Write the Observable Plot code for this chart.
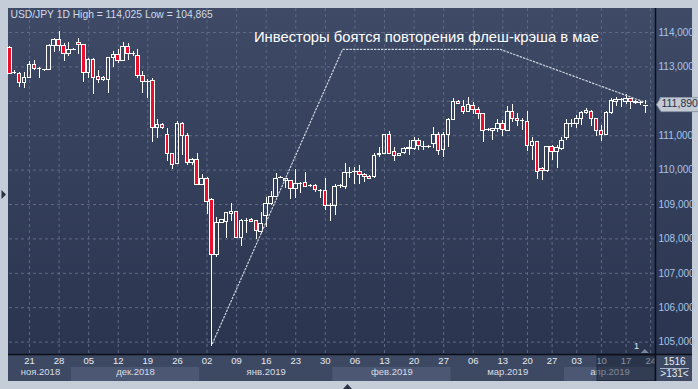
<!DOCTYPE html>
<html><head><meta charset="utf-8">
<script src="https://cdn.jsdelivr.net/npm/d3@7"></script>
<script src="https://cdn.jsdelivr.net/npm/@observablehq/plot@0.6"></script>
<style>
html,body{margin:0;padding:0;background:#c5cdd9;}
#wrap{position:relative;width:698px;height:389px;overflow:hidden;background:#c5cdd9;}
#wrap svg{position:absolute;left:0;top:0;}
</style></head><body><div id="wrap"></div>
<script>
// ---- data (bar index = trading bar, incl. Sunday bars before DST) ----
const opens = [113.55,112.83,112.80,112.54,112.67,113.06,112.93,112.94,112.91,113.62,
113.77,113.60,113.38,113.51,113.70,113.64,112.83,113.21,112.71,112.62,
112.62,113.26,113.35,113.17,113.59,113.38,113.33,112.74,112.58,112.60,
111.23,111.32,111.03,110.47,110.18,111.34,111.00,110.20,110.30,109.58,
109.75,109.12,107.54,108.47,108.49,108.73,108.78,108.03,108.53,108.55,
108.53,108.20,108.68,109.02,109.21,109.77,109.68,109.68,109.44,109.60,
109.63,109.55,109.55,109.40,109.38,108.95,108.95,109.53,109.50,109.93,
109.93,109.95,109.87,109.81,109.79,110.43,110.47,111.01,110.54,110.40,
110.49,110.60,110.60,110.86,110.69,110.68,110.76,111.03,110.59,111.01,
111.47,111.99,111.83,111.70,111.87,111.76,111.64,111.17,111.15,111.20,
111.35,111.15,111.70,111.49,111.43,111.41,110.70,110.83,110.03,109.97,
110.67,110.52,110.62,110.94,111.34,111.34,111.49,111.66,111.70,111.49,
111.15,111.01,111.66,111.99,112.04,111.99,112.07,111.99,111.95,111.91];
const highs = [113.60,112.89,112.85,112.83,113.16,113.20,112.99,112.96,113.64,113.82,
114.03,113.67,113.70,113.53,113.82,113.64,113.23,113.23,112.91,112.72,
113.26,113.45,113.51,113.71,113.67,113.46,113.52,112.87,112.62,112.65,
111.46,111.35,111.20,110.49,111.41,111.37,111.05,110.33,110.47,109.87,
109.79,109.17,108.61,108.56,108.78,109.02,108.78,108.55,108.60,108.58,
108.53,108.78,109.21,109.39,109.89,109.80,109.77,109.70,110.01,109.65,
109.94,109.58,109.58,109.44,109.75,109.02,109.57,109.57,110.18,110.08,
110.08,110.13,109.89,109.84,110.47,110.65,111.03,111.12,110.66,110.49,
110.67,110.86,110.96,110.91,110.83,110.71,111.25,111.08,111.10,111.49,
112.07,112.02,112.02,112.12,111.97,111.83,111.64,111.20,111.22,111.46,
111.44,111.86,111.90,111.64,111.49,111.70,110.96,110.83,110.08,110.70,
110.72,110.72,110.96,111.46,111.46,111.59,111.70,111.80,111.73,111.51,
111.30,111.70,112.09,112.10,112.07,112.19,112.09,112.02,112.00,112.01];
const lows = [112.78,112.78,112.41,112.36,112.65,112.90,112.65,112.88,112.90,113.43,
113.45,113.17,113.31,113.47,113.35,112.56,112.65,112.20,112.51,112.59,
112.24,112.99,113.09,113.17,113.20,113.30,112.67,112.24,112.07,110.81,
110.93,111.18,110.26,110.01,110.15,110.42,110.13,110.13,109.55,109.55,
108.71,104.87,107.47,108.44,108.00,108.51,108.00,107.79,108.17,108.49,
107.97,108.15,108.34,108.97,109.21,109.75,109.48,109.15,109.17,109.31,
109.50,109.50,109.36,109.18,108.83,108.51,108.68,109.48,109.43,109.76,
109.57,109.57,109.65,109.72,109.77,110.36,110.44,110.45,110.26,110.39,
110.44,110.42,110.57,110.57,110.57,110.64,110.62,110.42,110.36,110.67,
111.44,111.91,111.61,111.68,111.61,111.46,110.79,111.13,110.86,111.10,
110.99,111.13,111.37,111.28,111.15,110.55,110.28,109.73,109.70,109.94,
110.28,110.04,110.57,110.86,111.25,111.22,111.30,111.61,111.28,110.99,
110.83,111.01,111.61,111.86,111.83,111.91,111.76,111.90,111.88,111.65];
const closes = [112.80,112.85,112.54,112.68,113.06,112.94,112.94,112.93,113.62,113.77,
113.62,113.38,113.50,113.52,113.64,112.83,113.20,112.68,112.62,112.69,
113.26,113.36,113.17,113.59,113.38,113.39,112.73,112.56,112.59,111.22,
111.32,111.22,110.47,110.15,111.34,110.98,110.20,110.28,109.58,109.75,
109.07,107.54,108.47,108.54,108.75,108.78,108.03,108.53,108.54,108.49,
108.22,108.44,109.02,109.21,109.75,109.78,109.75,109.44,109.60,109.61,
109.52,109.56,109.41,109.41,108.95,108.96,109.50,109.54,109.92,109.94,
109.95,109.86,109.80,109.75,110.42,110.47,111.01,110.47,110.40,110.47,
110.60,110.64,110.86,110.69,110.70,110.69,111.03,110.57,111.01,111.47,
111.99,111.91,111.70,111.88,111.75,111.64,111.15,111.18,111.20,111.35,
111.17,111.70,111.49,111.42,111.44,110.70,110.83,109.94,109.97,110.67,
110.52,110.64,110.86,111.34,111.35,111.49,111.66,111.73,111.49,111.13,
111.01,111.66,112.02,112.05,112.05,112.07,111.99,111.94,111.96,111.89];

const weekTickIdx = [4,10,16,22,28,34,40,46,52,58,64,70,76,82,88,94,100,105,110,115,120,125,130];
const weekTickLabels = ["21","28","05","12","19","26","02","09","16","23","30","06","13","20","27","06","13","20","27","03","10","17","24"];
const monthNames = ["ноя.2018","дек.2018","янв.2019","фев.2019","мар.2019","апр.2019"];
const monthBreaks = [12.5, 38.5, 65.5, 89.5, 112.5];
const priceTicks = [105,106,107,108,109,110,111,112,113,114];

const headerText = "USD/JPY 1D High = 114,025 Low = 104,865";
const annotText = "Инвесторы боятся повторения флеш-крэша в мае";
const annotTextIdx = 84.5, annotTextPrice = 113.87;
const annotIdx = [41.1, 67.5, 99.5, 128.5];
const annotPrice = [104.96, 113.51, 113.51, 111.99];
const lastPrice = 111.890;
const cornerTop = "1516", cornerBottom = ">131<";

// ---- build ----
const FONT = "'Liberation Sans', Arial, sans-serif";
const W = 698, H = 389, mL = 9, mR = 43, mT = 8, mB = 35;
const xDomain = [-0.06, 130.97];
const yDomain = [104.64, 114.698];
const red = "#e8102c";
const hw = 0.36;

const bars = opens.map((o, i) => ({i, o, h: highs[i], l: lows[i], c: closes[i],
  top: Math.max(o, closes[i]), bot: Math.min(o, closes[i])}));
const isDoji = d => d.top - d.bot < 0.025;
const redBodies = bars.filter(d => !isDoji(d) && d.c < d.o);
const whiteBodies = bars.filter(d => !isDoji(d) && d.c >= d.o);
const dojis = bars.filter(isDoji);
const annotPts = annotIdx.map((i, k) => ({i, v: annotPrice[k]}));
const tickLabel = new Map(weekTickIdx.map((d, k) => [d, weekTickLabels[k]]));
const bounds = [xDomain[0], ...monthBreaks, xDomain[1]];
const months = monthNames.map((name, k) => ({name, x1: bounds[k], x2: bounds[k + 1], mid: (bounds[k] + bounds[k + 1]) / 2, light: k % 2 === 1}));
const fmt = d => d.toFixed(3).replace(".", ",");

const plot = Plot.plot({
  width: W, height: H, marginLeft: mL, marginRight: mR, marginTop: mT, marginBottom: mB,
  x: {type: "linear", domain: xDomain, axis: null},
  y: {type: "linear", domain: yDomain, axis: null},
  style: {background: "transparent", overflow: "visible", fontFamily: FONT, fontSize: "10px"},
  marks: [
    Plot.gridY(priceTicks, {stroke: "#5d6985", strokeOpacity: 1, strokeDasharray: "3,3"}),
    Plot.gridX(weekTickIdx, {stroke: "#5d6985", strokeOpacity: 1, strokeDasharray: "3,3"}),
    Plot.ruleX(bars, {x: "i", y1: "h", y2: "top", stroke: "white", strokeWidth: 1}),
    Plot.ruleX(bars, {x: "i", y1: "bot", y2: "l", stroke: "white", strokeWidth: 1}),
    Plot.rect(redBodies, {x1: d => d.i - hw, x2: d => d.i + hw, y1: "o", y2: "c", fill: red, stroke: "white", strokeWidth: 1}),
    Plot.rect(whiteBodies, {x1: d => d.i - hw, x2: d => d.i + hw, y1: "o", y2: "c", fill: "none", stroke: "white", strokeWidth: 1}),
    Plot.ruleY(dojis, {y: "c", x1: d => d.i - hw - 0.1, x2: d => d.i + hw + 0.1, stroke: "white", strokeWidth: 1}),
    Plot.line(annotPts, {x: "i", y: "v", stroke: "#cfd4dc", strokeWidth: 1.2, strokeDasharray: "1.5,2"}),
    Plot.text([annotText], {x: annotTextIdx, y: annotTextPrice, text: d => d, fill: "white", fontSize: 14.8, fontFamily: FONT}),
    Plot.text([headerText], {frameAnchor: "top-left", text: d => d, dx: 1, dy: 2, textAnchor: "start", lineAnchor: "top", fill: "#d2dae8", fontSize: 10.3, fontFamily: FONT}),
    Plot.axisY(priceTicks, {anchor: "right", tickSize: 0, tickPadding: 3, tickFormat: fmt, color: "#a9c3e6", fontSize: 10}),
    Plot.axisX(weekTickIdx, {anchor: "bottom", tickSize: 0, tickPadding: 3, tickFormat: d => tickLabel.get(d), color: "#e4e9f0", fontSize: 9.5}),
    Plot.text(months, {x: "mid", text: "name", frameAnchor: "bottom", dy: 20.5, fill: "#d6dce6", fontSize: 9.5, fontFamily: FONT})
  ]
});

const xs = plot.scale("x"), ys = plot.scale("y");
const svg = d3.select(plot);
svg.selectAll("g[aria-label='rule'] line, g[aria-label='rect'] rect").attr("shape-rendering", "crispEdges");
const px = v => xs.apply(v), py = v => ys.apply(v);
const fx0 = mL - 1, fx1 = W - mR, fy0 = mT, fy1 = H - mB, rightEdge = W - 6, botEdge = H - 8;

// backgrounds inserted beneath the marks
const defs = svg.insert("defs", ":first-child");
const g1 = defs.append("linearGradient").attr("id", "bgGrad").attr("x1", 0).attr("x2", 0).attr("y1", 0).attr("y2", 1);
g1.append("stop").attr("offset", "0%").attr("stop-color", "#3e4a66");
g1.append("stop").attr("offset", "100%").attr("stop-color", "#2a344f");
const bg = svg.insert("g", "defs + *");
bg.append("rect").attr("x", fx0).attr("y", fy0).attr("width", rightEdge - fx0).attr("height", fy1 - fy0).attr("fill", "url(#bgGrad)");
bg.append("rect").attr("x", fx0).attr("y", fy1).attr("width", rightEdge - fx0).attr("height", botEdge - fy1).attr("fill", "#3d4963");
months.forEach(m => {
  if (m.light) bg.append("rect").attr("x", px(m.x1)).attr("y", fy1 + 13).attr("width", px(m.x2) - px(m.x1)).attr("height", botEdge - fy1 - 13).attr("fill", "#4c5873");
});

// overlays
const ov = svg.append("g").attr("text-anchor", "start").attr("font-family", FONT);
ov.append("rect").attr("x", 597).attr("y", fy1 + 1.5).attr("width", fx1 - 597).attr("height", botEdge - fy1 - 2).attr("fill", "rgba(20,28,46,0.45)").attr("stroke", "#222a3d");
ov.append("line").attr("x1", fx0).attr("x2", rightEdge).attr("y1", fy1 + 0.5).attr("y2", fy1 + 0.5).attr("stroke", "#0b0f18").attr("stroke-width", 1.5);
ov.append("line").attr("x1", fx1 + 0.5).attr("x2", fx1 + 0.5).attr("y1", fy0).attr("y2", botEdge).attr("stroke", "#0b0f18").attr("stroke-width", 1.5);
ov.append("text").attr("x", (fx1 + rightEdge) / 2 + 1).attr("y", fy1 + 8).attr("text-anchor", "middle").attr("dominant-baseline", "middle").attr("fill", "#e4e9f0").attr("font-size", 10).text(cornerTop);
ov.append("line").attr("x1", fx1 + 5).attr("x2", rightEdge - 3).attr("y1", fy1 + 14.5).attr("y2", fy1 + 14.5).attr("stroke", "#aab4c4");
ov.append("text").attr("x", (fx1 + rightEdge) / 2 + 1).attr("y", fy1 + 20.5).attr("text-anchor", "middle").attr("dominant-baseline", "middle").attr("fill", "#e4e9f0").attr("font-size", 10).text(cornerBottom);
// last price label
const ly = py(lastPrice);
ov.append("path").attr("d", `M${fx1 + 1.5},${ly} L${fx1 + 6},${ly - 7} L${W + 2},${ly - 7} L${W + 2},${ly + 7} L${fx1 + 6},${ly + 7} Z`).attr("fill", "#c3cad3").attr("stroke", "#8e97a5");
ov.append("text").attr("x", fx1 + 6.5).attr("y", ly).attr("text-anchor", "start").attr("dominant-baseline", "middle").attr("fill", "#27304a").attr("font-size", 10.5).text(fmt(lastPrice));
// small markers
ov.append("text").attr("x", px(127.2)).attr("y", fy1 - 5).attr("text-anchor", "middle").attr("fill", "#e4e9f0").attr("font-size", 9).text("1");
ov.append("path").attr("d", `M${px(128.9) - 4},${fy1 - 1} L${px(128.9)},${fy1 - 5} L${px(128.9) + 4},${fy1 - 1} Z`).attr("fill", "#7c879b");
ov.append("path").attr("d", `M1.5,190 L6,194.5 L1.5,199 Z`).attr("fill", "#2b3345");
ov.append("path").attr("d", `M343,389 L347.5,384 L352,389 Z`).attr("fill", "#2b3345");

document.getElementById("wrap").appendChild(plot);
</script></body></html>
